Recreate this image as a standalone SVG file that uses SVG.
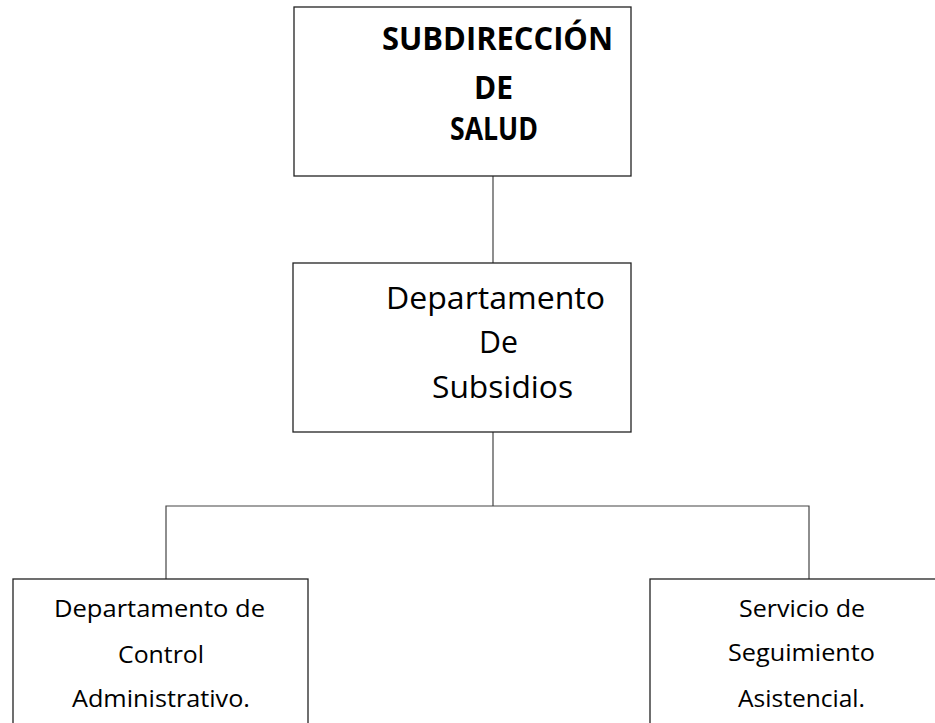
<svg xmlns="http://www.w3.org/2000/svg" width="935" height="723" viewBox="0 0 935 723">
<style>
.box{fill:#fff;stroke:#222;stroke-width:1.3}
.con{fill:none;stroke:#444;stroke-width:1.2}
text{font-family:"Open Sans","Liberation Sans",sans-serif;fill:#000}
.t1{font-size:33px;font-weight:bold}
.t2{font-size:31px}
.t3{font-size:24px}
</style>
<rect width="935" height="723" fill="#fff"/>
<g id="connectors">
<line class="con" x1="493" y1="176" x2="493" y2="263"/>
<line class="con" x1="493" y1="432" x2="493" y2="506"/>
<polyline class="con" points="166,579 166,506 809,506 809,579"/>
</g>
<g id="subdireccion">
<rect class="box" x="294" y="7" width="337" height="169"/>
<text class="t1" x="382" y="50" textLength="231" lengthAdjust="spacingAndGlyphs">SUBDIRECCIÓN</text>
<text class="t1" x="474" y="99" textLength="39" lengthAdjust="spacingAndGlyphs">DE</text>
<text class="t1" x="450" y="140" textLength="88" lengthAdjust="spacingAndGlyphs">SALUD</text>
</g>
<g id="subsidios">
<rect class="box" x="293" y="263" width="338" height="169"/>
<text class="t2" x="386" y="309" textLength="219" lengthAdjust="spacingAndGlyphs">Departamento</text>
<text class="t2" x="479" y="353" textLength="39" lengthAdjust="spacingAndGlyphs">De</text>
<text class="t2" x="432" y="398" textLength="141" lengthAdjust="spacingAndGlyphs">Subsidios</text>
</g>
<g id="control">
<rect class="box" x="13" y="579" width="295" height="160"/>
<text class="t3" x="54" y="617" textLength="211" lengthAdjust="spacingAndGlyphs">Departamento de</text>
<text class="t3" x="118" y="663" textLength="86" lengthAdjust="spacingAndGlyphs">Control</text>
<text class="t3" x="72" y="707" textLength="178" lengthAdjust="spacingAndGlyphs">Administrativo.</text>
</g>
<g id="seguimiento">
<rect class="box" x="650" y="579" width="300" height="160"/>
<text class="t3" x="739" y="617" textLength="126" lengthAdjust="spacingAndGlyphs">Servicio de</text>
<text class="t3" x="728" y="661" textLength="147" lengthAdjust="spacingAndGlyphs">Seguimiento</text>
<text class="t3" x="738" y="707" textLength="127" lengthAdjust="spacingAndGlyphs">Asistencial.</text>
</g>
</svg>
